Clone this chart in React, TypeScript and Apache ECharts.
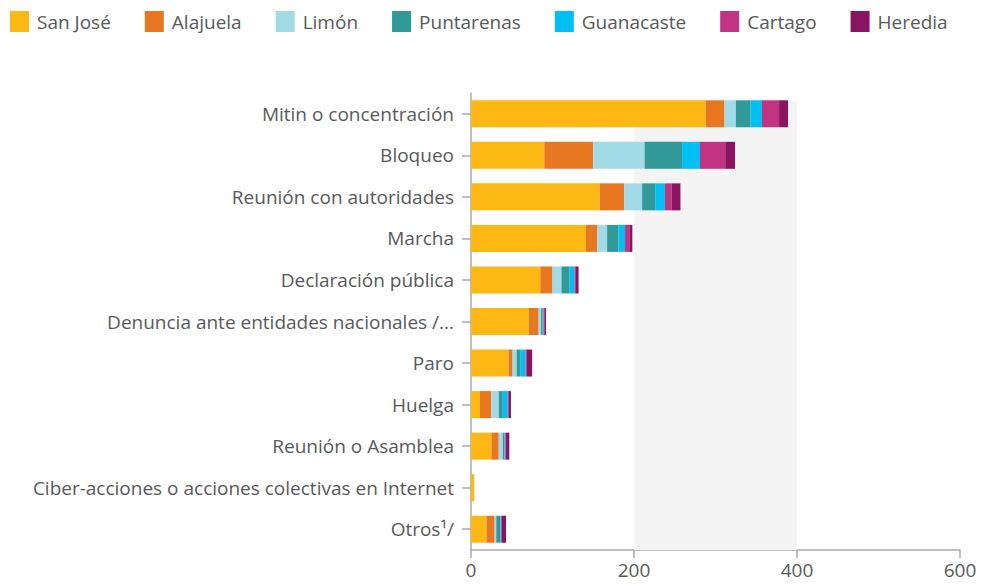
import React, { useEffect, useRef } from "react";
import * as echarts from "echarts";

const categories = [
  "Mitin o concentración",
  "Bloqueo",
  "Reunión con autoridades",
  "Marcha",
  "Declaración pública",
  "Denuncia ante entidades nacionales /...",
  "Paro",
  "Huelga",
  "Reunión o Asamblea",
  "Ciber-acciones o acciones colectivas en Internet",
  "Otros¹/",
];

const seriesNames = ["San José", "Alajuela", "Limón", "Puntarenas", "Guanacaste", "Cartago", "Heredia"];
const colors = ["#FDB813", "#E87722", "#A2DAE6", "#319A98", "#00BFF3", "#C13383", "#8A1462"];

const sanJose = [288, 90, 158, 141, 85, 71, 46, 11, 25, 4, 19];
const alajuela = [23, 60, 30, 14, 15, 12, 5, 14, 9, 0, 10];
const limon = [14, 63, 22, 12, 11, 3, 5, 9, 5, 0, 2];
const puntarenas = [18, 46, 16, 14, 10, 2, 5, 5, 2, 0, 5];
const guanacaste = [14, 22, 12, 8, 6, 1, 6, 6, 1, 0, 1];
const cartago = [21, 31, 8, 6, 1, 1, 1, 1, 1, 0, 1];
const heredia = [11, 12, 11, 3, 4, 2, 7, 3, 4, 0, 5];

const seriesData = [sanJose, alajuela, limon, puntarenas, guanacaste, cartago, heredia];

const xTicks = [0, 200, 400, 600];

export default function App() {
  const ref = useRef<HTMLDivElement>(null);
  useEffect(() => {
    document.body.style.margin = "0";
    if (!ref.current) return;
    const chart = echarts.init(ref.current, null, { renderer: "svg" });
    const font = "'Open Sans', sans-serif";
    chart.setOption({
      animation: false,
      textStyle: { fontFamily: font },
      legend: {
        top: 11,
        left: 10,
        padding: 0,
        itemWidth: 19,
        itemHeight: 21,
        itemGap: 34,
        icon: "rect",
        textStyle: { fontSize: 19, color: "#58595b", fontFamily: font, padding: [0, 0, 0, 3] },
        data: seriesNames,
      },
      grid: { left: 471, right: 22, top: 93, bottom: 34, containLabel: false },
      xAxis: {
        type: "value",
        min: xTicks[0],
        max: xTicks[xTicks.length - 1],
        interval: 200,
        axisLine: { show: true, lineStyle: { color: "#aaaaaa", width: 1.5 } },
        axisTick: { show: true, length: 8, lineStyle: { color: "#aaaaaa", width: 1.5 } },
        splitLine: { show: false },
        axisLabel: { fontSize: 19, color: "#58595b", fontFamily: font, margin: 10 },
      },
      yAxis: {
        type: "category",
        inverse: true,
        data: categories,
        axisLine: { show: true, lineStyle: { color: "#aaaaaa", width: 1.5 } },
        axisTick: { show: true, length: 9, alignWithLabel: true, lineStyle: { color: "#aaaaaa", width: 1.5 } },
        axisLabel: { fontSize: 19, color: "#58595b", fontFamily: font, margin: 17 },
      },
      series: seriesData.map((d, i) => ({
        name: seriesNames[i],
        type: "bar",
        stack: "total",
        data: d,
        barWidth: 27,
        itemStyle: { color: colors[i] },
        emphasis: { disabled: true },
        ...(i === 0
          ? {
              markArea: {
                silent: true,
                itemStyle: { color: "#f4f4f4" },
                data: [[{ xAxis: 200, y: 101 }, { xAxis: 400, y: 550 }]],
              },
            }
          : {}),
      })),
    });
    return () => chart.dispose();
  }, []);
  return <div ref={ref} style={{ width: 982, height: 584 }} />;
}
